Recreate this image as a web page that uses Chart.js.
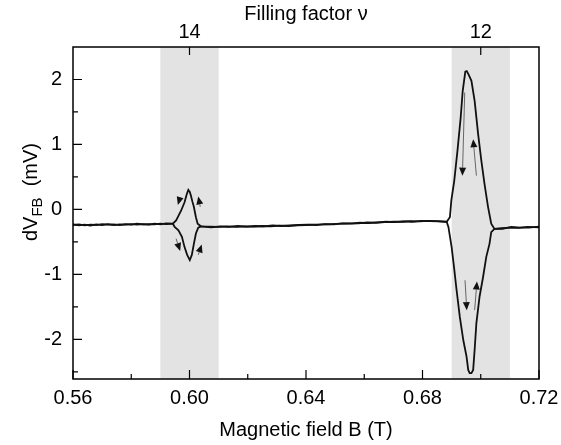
<!DOCTYPE html>
<html><head><meta charset="utf-8">
<script src="https://cdn.jsdelivr.net/npm/chart.js@4.4.1/dist/chart.umd.min.js"></script>
<style>html,body{margin:0;padding:0;background:#fff}#wrap{width:561px;height:445px;position:relative}</style>
</head><body>
<div id="wrap"><canvas id="c"></canvas></div>
<script>
// ---- axis ranges / ticks ----
const xMin = 0.56, xMax = 0.72;
const yMin = -2.61, yMax = 2.5;
const xTicks = [0.56, 0.60, 0.64, 0.68, 0.72];
const xMinorTicks = [0.58, 0.62, 0.66, 0.70];
const yTicks = [-2, -1, 0, 1, 2];
const yMinorTicks = [-2.5, -1.5, -0.5, 0.5, 1.5];
const nuTickB = [0.60, 0.70];
const nuTickLabels = ['14', '12'];
const bandRanges = [[0.59, 0.61], [0.69, 0.71]];

// ---- sweep 1 (through upper branches of the loops) ----
const sweep1B = [
  0.560,0.562,0.564,0.566,0.568,0.570,0.572,0.574,0.576,0.578,0.580,0.582,0.584,0.586,0.588,0.590,0.592,0.5943,
  0.5954,0.5962,0.5971,0.5983,0.5991,0.5996,0.6001,0.6005,0.6010,0.6015,0.6022,0.6028,0.6039,
  0.607,0.610,0.613,0.616,0.619,0.622,0.625,0.628,0.631,0.634,0.637,0.640,0.643,0.646,0.649,0.652,0.655,0.658,0.661,0.664,0.667,0.670,0.673,0.676,0.679,0.682,0.685,0.6883,
  0.6894,0.6899,0.6909,0.6920,0.6931,0.6938,0.6947,0.6952,0.6958,0.6968,0.6979,0.6991,0.7002,0.7013,0.7025,0.7036,0.7047,
  0.707,0.710,0.713,0.716,0.720
];
const sweep1V = [
  -0.24,-0.23,-0.245,-0.235,-0.24,-0.225,-0.235,-0.23,-0.24,-0.225,-0.235,-0.22,-0.23,-0.225,-0.23,-0.22,-0.225,-0.22,
  -0.17,-0.10,-0.02,0.11,0.24,0.30,0.27,0.21,0.12,0.04,-0.12,-0.22,-0.26,
  -0.265,-0.27,-0.26,-0.27,-0.26,-0.265,-0.255,-0.26,-0.25,-0.255,-0.245,-0.24,-0.235,-0.23,-0.225,-0.22,-0.215,-0.215,-0.20,-0.205,-0.195,-0.19,-0.19,-0.18,-0.185,-0.175,-0.18,-0.19,
  -0.12,0.14,0.44,0.90,1.41,1.82,2.12,2.13,2.08,1.98,1.67,1.16,0.75,0.39,0.04,-0.22,-0.30,
  -0.29,-0.28,-0.285,-0.27,-0.275
];

// ---- sweep 2 (through lower branches of the loops) ----
const sweep2B = [
  0.560,0.562,0.564,0.566,0.568,0.570,0.572,0.574,0.576,0.578,0.580,0.582,0.584,0.586,0.588,0.590,0.592,0.5943,
  0.5949,0.5962,0.5974,0.5983,0.5992,0.6001,0.6008,0.6015,0.6022,0.6030,0.6039,
  0.6075,0.6105,0.6135,0.6165,0.6195,0.6225,0.6255,0.6285,0.6315,0.6345,0.6375,0.6405,0.6435,0.6465,0.6495,0.6525,0.6555,0.6585,0.6615,0.6645,0.6675,0.6705,0.6735,0.6765,0.6795,0.6825,0.6855,0.6883,
  0.6889,0.6900,0.6908,0.6917,0.6928,0.6940,0.6951,0.6957,0.6962,0.6968,0.6974,0.6979,0.6985,0.6996,0.7008,0.7019,0.7030,0.7036,0.7047,
  0.7075,0.7105,0.7135,0.7165,0.720
];
const sweep2V = [
  -0.23,-0.245,-0.235,-0.25,-0.23,-0.24,-0.225,-0.24,-0.23,-0.235,-0.225,-0.235,-0.225,-0.235,-0.22,-0.23,-0.215,-0.22,
  -0.27,-0.32,-0.42,-0.58,-0.70,-0.78,-0.70,-0.53,-0.37,-0.28,-0.26,
  -0.275,-0.26,-0.27,-0.255,-0.265,-0.255,-0.26,-0.245,-0.255,-0.245,-0.24,-0.235,-0.24,-0.225,-0.23,-0.215,-0.22,-0.205,-0.21,-0.20,-0.19,-0.195,-0.185,-0.19,-0.175,-0.18,-0.185,-0.19,
  -0.27,-0.58,-0.88,-1.24,-1.65,-2.01,-2.26,-2.47,-2.52,-2.52,-2.47,-2.16,-1.75,-1.34,-1.04,-0.73,-0.53,-0.35,-0.30,
  -0.30,-0.27,-0.28,-0.28,-0.265
];

// ---- sweep direction arrows: tail -> head ----
const arrowTailB = [0.5968, 0.6037, 0.5954, 0.6030, 0.6945, 0.6985, 0.6946, 0.6979];
const arrowTailV = [0.19, 0.04, -0.45, -0.70, 1.80, 0.52, -1.09, -1.55];
const arrowHeadB = [0.5960, 0.6030, 0.5968, 0.6042, 0.6937, 0.6974, 0.6952, 0.6987];
const arrowHeadV = [0.07, 0.20, -0.64, -0.54, 0.52, 1.08, -1.55, -1.11];

const FONT = '"Liberation Sans", Arial, sans-serif';
const FS = 20;
const toPts = (bs, vs) => bs.map((b, i) => ({x: b, y: vs[i]}));

const decor = {
  id: 'decor',
  beforeDatasetsDraw(chart) {
    const {ctx, chartArea: a, scales: {x}} = chart;
    ctx.save();
    ctx.fillStyle = '#e3e3e3';
    bandRanges.forEach(([b0, b1]) => {
      const p0 = x.getPixelForValue(b0), p1 = x.getPixelForValue(b1);
      ctx.fillRect(p0, a.top, p1 - p0, a.bottom - a.top);
    });
    ctx.restore();
  },
  afterDatasetsDraw(chart) {
    const {ctx, chartArea: a, scales: {x, y}} = chart;
    ctx.save();
    // arrows
    for (let i = 0; i < arrowTailB.length; i++) {
      const x0 = x.getPixelForValue(arrowTailB[i]), y0 = y.getPixelForValue(arrowTailV[i]);
      const x1 = x.getPixelForValue(arrowHeadB[i]), y1 = y.getPixelForValue(arrowHeadV[i]);
      const ang = Math.atan2(y1 - y0, x1 - x0);
      const hl = 8, hw = 3.5;
      ctx.strokeStyle = '#666'; ctx.lineWidth = 1;
      ctx.beginPath(); ctx.moveTo(x0, y0);
      ctx.lineTo(x1 - hl * Math.cos(ang), y1 - hl * Math.sin(ang)); ctx.stroke();
      ctx.fillStyle = '#111';
      ctx.beginPath();
      ctx.moveTo(x1, y1);
      ctx.lineTo(x1 - hl * Math.cos(ang) + hw * Math.sin(ang), y1 - hl * Math.sin(ang) - hw * Math.cos(ang));
      ctx.lineTo(x1 - hl * Math.cos(ang) - hw * Math.sin(ang), y1 - hl * Math.sin(ang) + hw * Math.cos(ang));
      ctx.closePath(); ctx.fill();
    }
    // frame
    ctx.strokeStyle = '#000'; ctx.lineWidth = 1.5;
    ctx.strokeRect(a.left, a.top, a.right - a.left, a.bottom - a.top);
    // inward ticks
    ctx.lineWidth = 1.2;
    ctx.beginPath();
    xTicks.forEach(v => { const p = x.getPixelForValue(v); ctx.moveTo(p, a.bottom); ctx.lineTo(p, a.bottom - 9); });
    xMinorTicks.forEach(v => { const p = x.getPixelForValue(v); ctx.moveTo(p, a.bottom); ctx.lineTo(p, a.bottom - 5); });
    yTicks.forEach(v => { const p = y.getPixelForValue(v); ctx.moveTo(a.left, p); ctx.lineTo(a.left + 9, p); });
    yMinorTicks.forEach(v => { const p = y.getPixelForValue(v); ctx.moveTo(a.left, p); ctx.lineTo(a.left + 5, p); });
    nuTickB.forEach(v => { const p = x.getPixelForValue(v); ctx.moveTo(p, a.top); ctx.lineTo(p, a.top + 8); });
    ctx.stroke();
    // y-axis title with subscript
    const cx = 37, cy = 192;
    ctx.translate(cx, cy); ctx.rotate(-Math.PI / 2);
    ctx.fillStyle = '#000'; ctx.textBaseline = 'alphabetic'; ctx.textAlign = 'left';
    const fMain = FS + 'px ' + FONT, fSub = '15px ' + FONT;
    ctx.font = fMain; const w1 = ctx.measureText('dV').width; const w3 = ctx.measureText('  (mV)').width;
    ctx.font = fSub; const w2 = ctx.measureText('FB').width;
    let sx = -(w1 + w2 + w3) / 2;
    ctx.font = fMain; ctx.fillText('dV', sx, 0); sx += w1;
    ctx.font = fSub; ctx.fillText('FB', sx, 5); sx += w2;
    ctx.font = fMain; ctx.fillText('  (mV)', sx, 0);
    ctx.restore();
  }
};

const lineDs = (data) => ({
  data, showLine: true, pointRadius: 0, borderColor: '#111', borderWidth: 1.8,
  tension: 0, fill: false
});

new Chart(document.getElementById('c'), {
  type: 'scatter',
  data: {
    datasets: [lineDs(toPts(sweep1B, sweep1V)), lineDs(toPts(sweep2B, sweep2V))]
  },
  options: {
    responsive: true, maintainAspectRatio: false, animation: false,
    devicePixelRatio: 1,
    layout: {padding: {left: 0, right: 22, top: 0, bottom: 0}},
    plugins: {legend: {display: false}, tooltip: {enabled: false}},
    scales: {
      x: {
        type: 'linear', position: 'bottom', min: xMin, max: xMax,
        afterBuildTicks: s => { s.ticks = xTicks.map(v => ({value: v})); },
        afterFit: s => { s.height = 66; s.paddingLeft = 0; s.paddingRight = 0; },
        grid: {display: false, drawTicks: false},
        border: {display: false},
        ticks: {color: '#000', font: {family: FONT, size: FS}, padding: 7, maxRotation: 0,
                callback: v => v.toFixed(2)},
        title: {display: true, text: 'Magnetic field B (T)', color: '#000',
                font: {family: FONT, size: FS}, padding: {top: 0, bottom: 3}}
      },
      x2: {
        type: 'linear', position: 'top', min: xMin, max: xMax,
        afterBuildTicks: s => { s.ticks = nuTickB.map(v => ({value: v})); },
        afterFit: s => { s.height = 47; s.paddingLeft = 0; s.paddingRight = 0; },
        grid: {display: false, drawTicks: false},
        border: {display: false},
        ticks: {color: '#000', font: {family: FONT, size: FS}, padding: 3, maxRotation: 0,
                callback: v => nuTickLabels[nuTickB.findIndex(b => Math.abs(b - v) < 1e-6)]},
        title: {display: true, text: 'Filling factor ν', color: '#000',
                font: {family: FONT, size: FS}, padding: {top: 2, bottom: 0}}
      },
      y: {
        type: 'linear', position: 'left', min: yMin, max: yMax,
        afterBuildTicks: s => { s.ticks = yTicks.map(v => ({value: v})); },
        afterFit: s => { s.width = 73; },
        grid: {display: false, drawTicks: false},
        border: {display: false},
        ticks: {color: '#000', font: {family: FONT, size: FS}, padding: 11,
                callback: v => String(v)}
      }
    }
  },
  plugins: [decor]
});
</script>
</body></html>
